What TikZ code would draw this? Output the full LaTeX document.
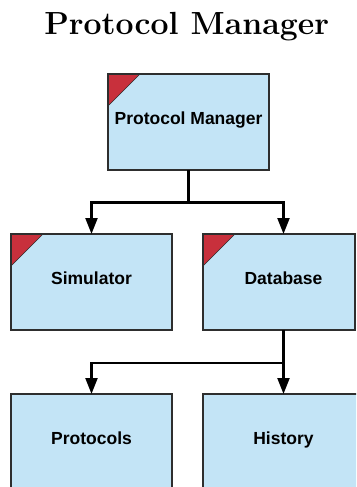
\documentclass[tikz,border=0pt]{standalone}
\usepackage{fontspec}
\newfontfamily\boxfont{Liberation Sans}
\usetikzlibrary{arrows.meta}
\definecolor{boxfill}{HTML}{C3E4F6}
\definecolor{boxline}{HTML}{2E2E2E}
\definecolor{cornerred}{HTML}{C8303C}
\tikzset{
  box/.style={draw=boxline, line width=1.3pt, fill=boxfill, minimum height=96pt, inner sep=0pt, outer sep=0pt},
  lbl/.style={font=\boxfont\bfseries\fontsize{17.5}{20}\selectfont, anchor=base, inner sep=0pt},
  corner/.style={fill=cornerred, draw=boxline, line width=0.6pt},
  conn/.style={line width=2.2pt, draw=black},
  arr/.style={conn, -{Triangle[length=16pt,width=12pt]}},
}
\begin{document}
\begin{tikzpicture}[x=1pt,y=-1pt]
\useasboundingbox (0,0) rectangle (356,487);
\clip (0,0) rectangle (356,487);
% title
\node[font=\bfseries\fontsize{32}{38}\selectfont, anchor=base, inner sep=0pt] (title) at (186.7,35) {Protocol Manager};
% boxes
\node[box, minimum width=161pt] (pm) at (188.5,122) {};
\node[box, minimum width=161pt] (sim) at (91.5,282) {};
\node[box, minimum width=152pt] (db) at (279,282) {};
\node[box, minimum width=161pt] (prot) at (91.5,442) {};
\node[box, minimum width=161pt] (hist) at (283.5,442) {};
% corners
\fill[corner] (pm.north west) -- ++(32,0) -- ++(-32,32) -- cycle;
\fill[corner] (sim.north west) -- ++(32,0) -- ++(-32,32) -- cycle;
\fill[corner] (db.north west) -- ++(32,0) -- ++(-32,32) -- cycle;
\draw[draw=boxline, line width=1.3pt] (pm.north west) rectangle (pm.south east);
\draw[draw=boxline, line width=1.3pt] (sim.north west) rectangle (sim.south east);
\draw[draw=boxline, line width=1.3pt] (db.north west) rectangle (db.south east);
% labels
\node[lbl] (pmt) at (188.5,124.5) {Protocol Manager};
\node[lbl] (simt) at (91.5,284.7) {Simulator};
\node[lbl] (dbt) at (283.5,284.7) {Database};
\node[lbl] (prott) at (91.5,444.7) {Protocols};
\node[lbl] (histt) at (283.5,444.7) {History};
% connectors
\coordinate (j1) at (188.5,202.5);
\coordinate (j2) at (283.5,362.7);
\draw[conn] (pm.south) -- (j1);
\draw[arr] (j1) -| (simt |- sim.north);
\draw[arr] (j1) -| (dbt |- db.north);
\draw[conn] (dbt |- db.south) -- (j2);
\draw[arr] (j2) -| (prott |- prot.north);
\draw[arr] (j2) -- (histt |- hist.north);
\end{tikzpicture}
\end{document}
